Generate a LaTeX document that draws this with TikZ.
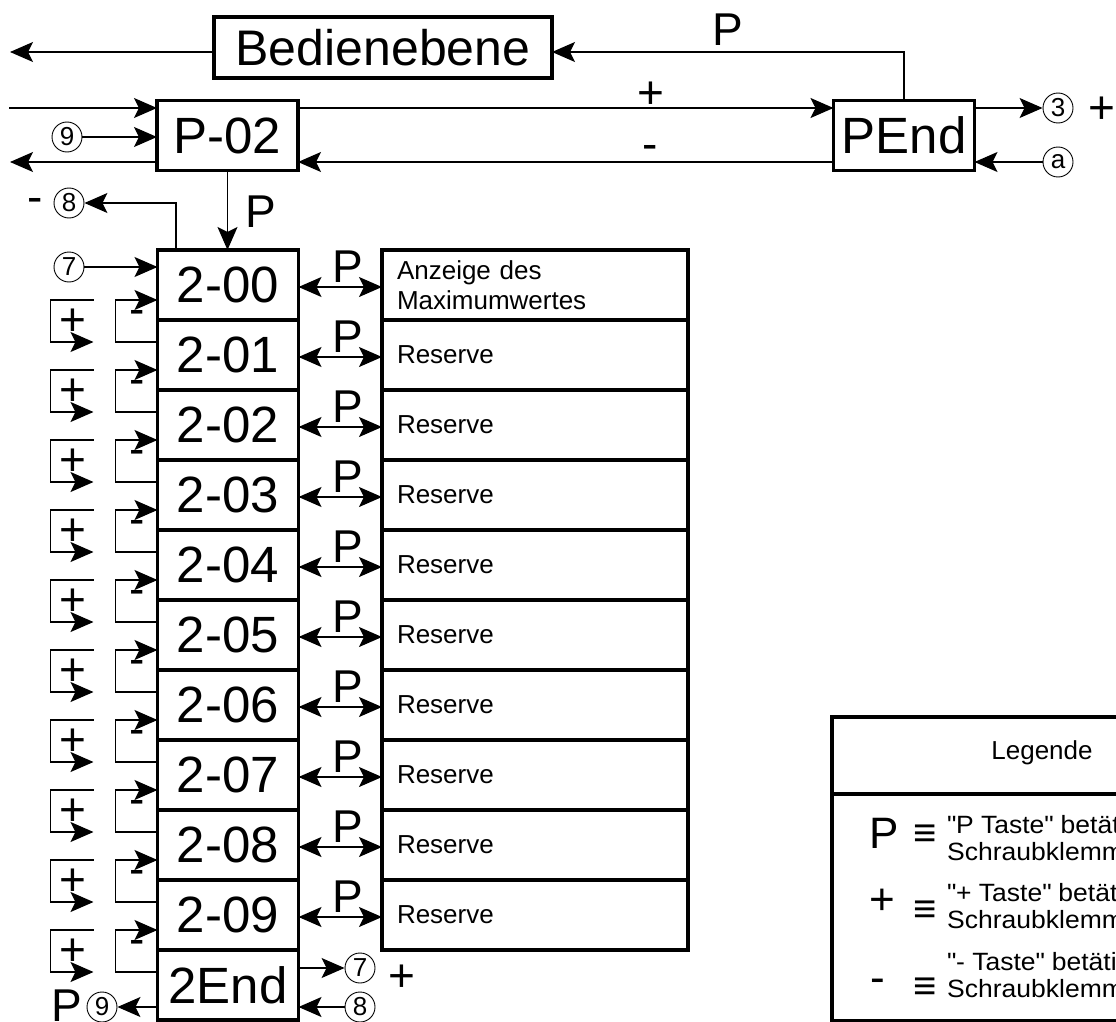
\documentclass[tikz,border=0pt]{standalone}
\usepackage{fontspec}
\setmainfont{Liberation Sans}
\newfontfamily\legfam{Liberation Sans}[FakeStretch=1.06]
\usetikzlibrary{positioning,arrows.meta,calc}
\newcommand\boxfont{\fontsize{51}{56}\selectfont}
\newcommand\headfont{\fontsize{50}{54}\selectfont}
\newcommand\lblfont{\fontsize{46}{50}\selectfont}
\newcommand\txtfont{\fontsize{26}{30}\selectfont}
\newcommand\legfont{\legfam\fontsize{25}{27}\selectfont}

\begin{document}
\begin{tikzpicture}[x=1pt, y=-1pt,
  box/.style={draw, line width=3.5pt, minimum width=141pt, minimum height=70pt, inner sep=0pt, outer sep=0pt, font=\boxfont},
  info/.style={draw, line width=3.5pt, text width=276pt, inner xsep=15pt, inner ysep=0pt, minimum height=70pt, outer sep=0pt, align=left, font=\txtfont},
  num/.style={circle, draw, line width=0.9pt, minimum size=30pt, inner sep=0pt, font=\txtfont},
  lb/.style={font=\lblfont, inner sep=0pt},
  key/.style={font=\fontsize{44}{48}\selectfont, inner sep=0pt},
  eq/.style={font=\fontsize{40}{40}\selectfont, inner sep=0pt},
  legtxt/.style={font=\legfont, align=left, anchor=base west, inner sep=0pt},
  conn/.style={line width=1.2pt, -{Stealth[length=23pt,width=20pt,inset=5pt]}},
  dconn/.style={line width=1.2pt, {Stealth[length=23pt,width=20pt,inset=5pt]}-{Stealth[length=23pt,width=20pt,inset=5pt]}},
]
\useasboundingbox (0,0) rectangle (1116,1022);
\clip (0,0) rectangle (1116,1022);
\coordinate (ybed) at (0,52);
\coordinate (ytop) at (0,108);
\coordinate (ybot) at (0,162);
\coordinate (lft) at (10,0);
\coordinate (ltop) at (9,108);
% top level
\node[box, minimum width=338pt, minimum height=61pt, font=\headfont] (bed) at (383,47.5) {Bedienebene};
\node[box] (p02) at (227.5,135.5) {P-02};
\node[box] (pend) at (904,135.5) {PEnd};
\draw[conn] (pend.north) |- (bed.east |- ybed);
\node[lb] at (728,30) {P};
\draw[conn] (bed.west |- ybed) -- (lft |- ybed);
\draw[conn] (ltop) -- (p02.west |- ytop);
\draw[conn] (p02.east |- ytop) -- (pend.west |- ytop);
\node[lb] at (651,95) {+};
\draw[conn] (pend.west |- ybot) -- (p02.east |- ybot);
\node[lb] at (650,152) {-};
\draw[conn] (p02.west |- ybot) -- (lft |- ybot);
\node[num] (n9) at (67,137) {9};
\draw[conn] (n9) -- (p02.west |- n9);
\node[num] (n3) at (1058,108) {3};
\node[lb] at (1102,110) {+};
\draw[conn] (pend.east |- n3) -- (n3);
\node[num] (na) at (1058,162) {a};
\draw[conn] (na) -- (pend.east |- na);
% parameter column
\foreach \i in {0,...,9}
  \node[box] (par\i) at (228,{285+70*\i}) {2-0\i};
\node[box] (par10) at (228,985) {2End};
\node[info] (txt0) at (535,285) {Anzeige des\\Maximumwertes};
\foreach \i in {1,...,9}
  \node[info] (txt\i) at (535,{285+70*\i}) {Reserve};
\draw[conn] (p02.south) -- (p02.south |- par0.north);
\node[lb] at (261,212) {P};
\node[num] (n8) at (69,203) {8};
\node[lb] at (35,205) {-};
\draw[conn] ([xshift=-52pt]par0.north) |- (n8);
\node[num] (n7) at (69,267) {7};
\draw[conn] (n7) -- (par0.west |- n7);
% rows: P to info, - and + steps
\foreach \i [evaluate=\i as \j using int(\i+1)] in {0,...,9} {
  \draw[dconn] ([yshift=-2pt]par\i.east) -- ([yshift=-2pt]txt\i.west);
  \node[lb] at (348,{267+70*\i}) {P};
  \draw[conn] ([yshift=13pt]par\j.west) -- ++(-42,0) |- ([yshift=-15pt]par\i.west);
  \node[lb] at (137,{317+70*\i}) {-};
  \draw[conn] ([xshift=-64pt,yshift=-15pt]par\i.west) -- ++(-43,0) |- ([xshift=-64pt,yshift=13pt]par\j.west);
  \node[lb] at (73,{322+70*\i}) {+};
}
% end of level 2
\node[num] (n7b) at (360,968) {7};
\node[num] (n8b) at (360,1007) {8};
\node[num] (n9b) at (102,1007) {9};
\draw[conn] (par10.east |- n7b) -- (n7b);
\node[lb] at (402,978) {+};
\draw[conn] (n8b) -- (par10.east |- n8b);
\draw[conn] (par10.west |- n9b) -- (n9b);
\node[lb] at (67,1006) {P};
% legend
\node[draw, line width=3.5pt, minimum width=418pt, minimum height=304pt, inner sep=0pt, outer sep=0pt, anchor=north west] (leg) at (832,717) {};
\coordinate (ydiv) at (0,794);
\draw[line width=3.5pt] (leg.west |- ydiv) -- (leg.east |- ydiv);
\node[font=\txtfont] (legh) at (1042,753) {Legende};
\node[key] (kp) at (884,833) {P};
\node[eq] (ep) at (925,836) {≡};
\node[legtxt] (tp) at (947,860) {\textquotedbl P Taste\textquotedbl\ betätigen\\Schraubklemme};
\node[key] (kplus) at (882,902) {+};
\node[eq] (eplus) at (925,912) {≡};
\node[legtxt] (tplus) at (947,928) {\textquotedbl + Taste\textquotedbl\ betätigen\\Schraubklemme};
\node[key] (kminus) at (878,986) {-};
\node[eq] (eminus) at (925,989) {≡};
\node[legtxt] (tminus) at (947,997) {\textquotedbl - Taste\textquotedbl\ betätigen\\Schraubklemme};
\end{tikzpicture}
\end{document}
